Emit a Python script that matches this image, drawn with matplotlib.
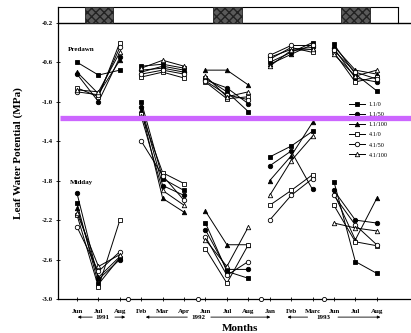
import numpy as np
import matplotlib
matplotlib.use("Agg")
import matplotlib.pyplot as plt
from matplotlib.patches import Rectangle
from matplotlib.lines import Line2D

plt.rcParams['font.family'] = ['Liberation Serif', 'DejaVu Serif']
plt.rcParams['axes.unicode_minus'] = False

months = ["Jun", "Jul", "Aug", "Feb", "Mar", "Apr", "Jun", "Jul", "Aug",
          "Jan", "Feb", "Marc", "Jun", "Jul", "Aug"]
groups = [(0, 3), (3, 6), (6, 9), (9, 12), (12, 15)]
years = ["1991", "1992", "1993"]
yticks = [-0.2, -0.6, -1.0, -1.4, -1.8, -2.2, -2.6, -3.0]

series = ["1.1/0", "1.1/50", "1.1/100", "4.1/0", "4.1/50", "4.1/100"]

predawn = {
    "1.1/0":   [-0.60, -0.73, -0.68, -0.64, -0.62, -0.66, -0.76, -0.90, -1.10, -0.60, -0.50, -0.40, -0.42, -0.72, -0.89],
    "1.1/50":  [-0.72, -1.00, -0.55, -0.68, -0.66, -0.70, -0.78, -0.86, -1.02, -0.55, -0.47, -0.45, -0.46, -0.76, -0.80],
    "1.1/100": [-0.70, -0.92, -0.58, -0.70, -0.64, -0.68, -0.68, -0.68, -0.83, -0.62, -0.52, -0.42, -0.44, -0.68, -0.72],
    "4.1/0":   [-0.86, -0.95, -0.40, -0.75, -0.70, -0.76, -0.80, -0.97, -0.95, -0.57, -0.45, -0.50, -0.50, -0.80, -0.75],
    "4.1/50":  [-0.90, -0.93, -0.45, -0.72, -0.68, -0.72, -0.79, -0.93, -0.98, -0.53, -0.43, -0.43, -0.48, -0.70, -0.77],
    "4.1/100": [-0.88, -0.90, -0.50, -0.66, -0.58, -0.64, -0.74, -0.95, -0.90, -0.64, -0.48, -0.47, -0.52, -0.74, -0.68],
}
midday = {
    "1.1/0":   [-2.03, -2.85, -2.58, -1.00, -1.78, -1.90, -2.23, -2.72, -2.79, -1.56, -1.45, -1.30, -1.81, -2.62, -2.74],
    "1.1/50":  [-1.93, -2.80, -2.60, -1.05, -1.85, -1.95, -2.30, -2.70, -2.70, -1.65, -1.50, -1.89, -1.90, -2.20, -2.23],
    "1.1/100": [-2.08, -2.78, -2.57, -1.08, -1.98, -2.12, -2.11, -2.45, -2.45, -1.80, -1.55, -1.21, -1.93, -2.40, -1.98],
    "4.1/0":   [-2.15, -2.88, -2.20, -1.12, -1.72, -1.83, -2.49, -2.84, -2.45, -2.05, -1.90, -1.74, -2.05, -2.42, -2.46],
    "4.1/50":  [-2.27, -2.72, -2.52, -1.40, -1.75, -2.00, -2.37, -2.76, -2.62, -2.20, -1.95, -1.78, -1.95, -2.25, -2.45],
    "4.1/100": [-2.13, -2.67, -2.55, -1.15, -1.90, -2.05, -2.40, -2.67, -2.27, -1.95, -1.60, -1.35, -2.23, -2.28, -2.31],
}

styles = {
    "1.1/0":   dict(marker='s', mfc='black'),
    "1.1/50":  dict(marker='o', mfc='black'),
    "1.1/100": dict(marker='^', mfc='black'),
    "4.1/0":   dict(marker='s', mfc='white'),
    "4.1/50":  dict(marker='o', mfc='white'),
    "4.1/100": dict(marker='^', mfc='white'),
}

W, H = 411, 333
fig = plt.figure(figsize=(W / 100, H / 100), dpi=100)
ax = fig.add_axes([58 / W, 34 / H, (W - 58) / W, 292 / H])

x = np.arange(len(months))
for name in series:
    st = styles[name]
    for data in (predawn, midday):
        vals = np.array(data[name])
        for a, b in groups:
            ax.plot(x[a:b], vals[a:b], color='black', lw=0.7, marker=st['marker'],
                    mfc=st['mfc'], mec='black', ms=3.2, mew=0.6, zorder=3)

ax.set_xlim(-0.89, 15.6)
ax.set_ylim(-3.0, -0.04)

# top strip
ax.axhline(-0.2, color='black', lw=1.0)
ax.plot([-0.89, 15.0], [-0.045, -0.045], color='black', lw=0.8, clip_on=False)
ax.plot([15.0, 15.0], [-0.2, -0.045], color='black', lw=0.8)
for cx in (1, 7, 13):
    ax.add_patch(Rectangle((cx - 0.65, -0.2), 1.35, 0.155, facecolor='#5a5a5a',
                           edgecolor='#222222', hatch='xxxx', lw=0.6, zorder=2))

for sp in ('top', 'right'):
    ax.spines[sp].set_visible(False)
ax.spines['left'].set_linewidth(0.9)
ax.spines['bottom'].set_linewidth(0.9)

ax.set_yticks(yticks)
ax.set_yticklabels(["%.1f" % v for v in yticks], fontsize=5, fontweight='bold')
ax.set_xticks(x)
ax.set_xticklabels(months, fontsize=5, fontweight='bold')
ax.tick_params(axis='both', direction='inout', length=3, width=0.6, pad=2)
ax.tick_params(axis='x', pad=6)

# axis breaks
for bx in (2.4, 5.65, 8.6, 11.55):
    ax.plot([bx], [-3.0], marker='o', ms=3, mfc='white', mec='black', mew=0.6,
            clip_on=False, zorder=5)

ax.set_ylabel("Leaf Water Potential (MPa)", fontsize=8, fontweight='bold', labelpad=14)

ax.text(-0.42, -0.47, "Predawn", fontsize=5, fontweight='bold', ha='left', va='center')
ax.text(-0.35, -1.82, "Midday", fontsize=5, fontweight='bold', ha='left', va='center')

# year annotations
tr = ax.get_xaxis_transform()
yy = -0.062
year_specs = [("1991", 1.2, (0.84, -0.1), (1.64, 2.38)),
              ("1992", 5.65, (5.28, 3.08), (6.12, 9.16)),
              ("1993", 11.5, (10.9, 9.7), (12.06, 14.3))]
for label, tx, la, ra in year_specs:
    ax.text(tx, yy, label, transform=tr, fontsize=5, fontweight='bold',
            ha='center', va='center')
    for s, e in (la, ra):
        ax.annotate("", xy=(e, yy), xytext=(s, yy), xycoords=tr, textcoords=tr,
                    arrowprops=dict(arrowstyle='-|>', lw=0.6, color='black',
                                    mutation_scale=4), annotation_clip=False)
ax.text(7.6, -0.1, "Months", transform=tr, fontsize=8, fontweight='bold',
        ha='center', va='center')

handles = [Line2D([0], [0], color='black', lw=0.7, marker=styles[n]['marker'],
                  mfc=styles[n]['mfc'], mec='black', ms=3.2, mew=0.6) for n in series]
leg = ax.legend(handles, series, loc='upper left', bbox_to_anchor=(0.825, 0.675),
                frameon=False, fontsize=4.5, handlelength=2.6, handletextpad=0.5,
                labelspacing=0.75, borderpad=0, borderaxespad=0)

# magenta band
ax.plot([-0.8, 15.6], [-1.17, -1.17], color='#cc66ff', lw=3.8, solid_capstyle='butt',
        zorder=10, clip_on=False)

fig.savefig("out.png", dpi=100)
